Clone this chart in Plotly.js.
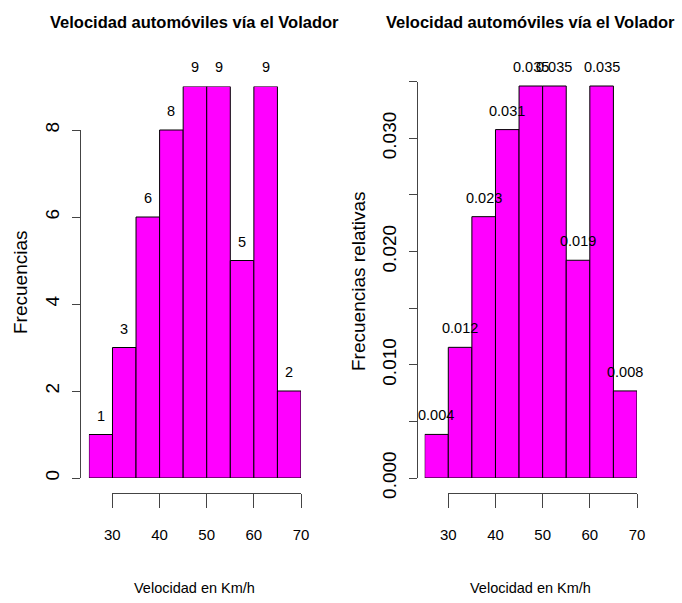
<!DOCTYPE html>
<html>
<head>
<meta charset="utf-8">
<script src="https://cdn.plot.ly/plotly-3.0.1.min.js"></script>
<style>html,body{margin:0;padding:0;background:#fff;}#chart{width:682px;height:603px;}</style>
</head>
<body>
<div id="chart"></div>
<script>
// ---- data ----
var breaks = [25, 30, 35, 40, 45, 50, 55, 60, 65, 70];
var counts = [1, 3, 6, 8, 9, 9, 5, 9, 2];
var relFreq = [0.00385, 0.01154, 0.02308, 0.03077, 0.03462, 0.03462, 0.01923, 0.03462, 0.00769];
var relLabels = ["0.004", "0.012", "0.023", "0.031", "0.035", "0.035", "0.019", "0.035", "0.008"];
var countLabels = ["1", "3", "6", "8", "9", "9", "5", "9", "2"];
var xTicks = [30, 40, 50, 60, 70];
var xTickLabels = ["30", "40", "50", "60", "70"];
var yTicksLeft = [0, 2, 4, 6, 8];
var yTickLabelsLeft = ["0", "2", "4", "6", "8"];
var yTicksRight = [0, 0.005, 0.010, 0.015, 0.020, 0.025, 0.030, 0.035];
var yTickLabelsRight = ["0.000", "", "0.010", "", "0.020", "", "0.030", ""];
var titleText = "Velocidad automóviles vía el Volador";
var xTitle = "Velocidad en Km/h";
var yTitleLeft = "Frecuencias";
var yTitleRight = "Frecuencias relativas";

// ---- derived ----
var mids = [], widths = [];
for (var i = 0; i < breaks.length - 1; i++) {
  mids.push((breaks[i] + breaks[i + 1]) / 2);
  widths.push(breaks[i + 1] - breaks[i]);
}
var W = 682, H = 603;
function px(x) { return x / W; }
function py(y) { return 1 - y / H; }

var FONT = '"Liberation Sans", Arial, sans-serif';
var AX = '#444';

var barStyle = { color: '#FF00FF', line: { color: '#000', width: 1 } };

var traces = [
  { type: 'bar', x: mids, y: counts, width: widths, marker: barStyle,
    xaxis: 'x', yaxis: 'y', hoverinfo: 'skip', showlegend: false },
  { type: 'bar', x: mids, y: relFreq, width: widths, marker: barStyle,
    xaxis: 'x2', yaxis: 'y2', hoverinfo: 'skip', showlegend: false },
  { type: 'scatter', mode: 'markers', x: [xTicks[0], xTicks[xTicks.length - 1]],
    y: [yTicksLeft[0], yTicksLeft[yTicksLeft.length - 1]], marker: { opacity: 0 },
    xaxis: 'x3', yaxis: 'y3', hoverinfo: 'skip', showlegend: false },
  { type: 'scatter', mode: 'markers', x: [xTicks[0], xTicks[xTicks.length - 1]],
    y: [yTicksRight[0], yTicksRight[yTicksRight.length - 1]], marker: { opacity: 0 },
    xaxis: 'x4', yaxis: 'y4', hoverinfo: 'skip', showlegend: false }
];

var hidden = { visible: false, fixedrange: true };
function xTickAxis(d0, d1) {
  return { domain: [d0, d1], range: [xTicks[0], xTicks[xTicks.length - 1]], anchor: 'free',
    position: py(493), showline: true, linecolor: AX, linewidth: 1, ticks: 'outside',
    ticklen: 14, tickwidth: 1, tickcolor: AX, tickmode: 'array', tickvals: xTicks,
    ticktext: xTickLabels, showgrid: false, zeroline: false, ticklabelstandoff: 14,
    tickfont: { family: FONT, size: 15, color: '#000' } };
}
function yTickAxis(d0, d1, pos, vals, txt) {
  return { domain: [d0, d1], range: [vals[0], vals[vals.length - 1]], anchor: 'free',
    position: pos, side: 'left', showline: true, linecolor: AX, linewidth: 1, ticks: 'outside',
    ticklen: 8, tickwidth: 1, tickcolor: AX, tickmode: 'array', tickvals: vals, ticktext: txt,
    tickangle: -90, showgrid: false, zeroline: false, ticklabelstandoff: 5,
    tickfont: { family: FONT, size: 19, color: '#000' } };
}

var ann = [];
for (var j = 0; j < mids.length; j++) {
  ann.push({ x: mids[j], y: counts[j], xref: 'x', yref: 'y', text: countLabels[j], showarrow: false,
    yshift: 19, font: { family: FONT, size: 14.5, color: '#000' } });
  ann.push({ x: mids[j], y: relFreq[j], xref: 'x2', yref: 'y2', text: relLabels[j], showarrow: false,
    yshift: 19, font: { family: FONT, size: 14.5, color: '#000' } });
}
function paperText(x, y, text, size, angle) {
  return { x: px(x), y: py(y), xref: 'paper', yref: 'paper', text: text, showarrow: false,
    xanchor: 'center', yanchor: 'middle', textangle: angle || 0,
    font: { family: FONT, size: size, color: '#000' } };
}
// panel titles and axis titles, centred on each plot region as in the reference
ann.push(paperText(194.9, 22, '<b>' + titleText + '</b>', 16.5));
ann.push(paperText(530.8, 22, '<b>' + titleText + '</b>', 16.5));
ann.push(paperText(194.9, 588, xTitle, 14.5));
ann.push(paperText(530.8, 588, xTitle, 14.5));
ann.push(paperText(20, 282, yTitleLeft, 19, -90));
ann.push(paperText(358, 281, yTitleRight, 19, -90));

var layout = {
  width: W, height: H, margin: { l: 0, r: 0, t: 0, b: 0 },
  paper_bgcolor: '#fff', plot_bgcolor: 'rgba(0,0,0,0)', showlegend: false, bargap: 0,
  xaxis: Object.assign({ domain: [px(88.9), px(301)], range: [breaks[0], breaks[breaks.length - 1]], anchor: 'y' }, hidden),
  yaxis: Object.assign({ domain: [py(478), py(86.5)], range: [0, 9], anchor: 'x' }, hidden),
  xaxis2: Object.assign({ domain: [px(424.7), px(637)], range: [breaks[0], breaks[breaks.length - 1]], anchor: 'y2' }, hidden),
  yaxis2: Object.assign({ domain: [py(478), py(81.7)], range: [0, 0.035], anchor: 'x2' }, hidden),
  xaxis3: xTickAxis(px(112.3), px(301)),
  yaxis3: yTickAxis(py(478), py(130), px(80), yTicksLeft, yTickLabelsLeft),
  xaxis4: xTickAxis(px(448.3), px(637)),
  yaxis4: yTickAxis(py(478), py(81.7), px(417), yTicksRight, yTickLabelsRight),
  annotations: ann
};

Plotly.newPlot('chart', traces, layout, { staticPlot: true, displayModeBar: false });
</script>
</body>
</html>
